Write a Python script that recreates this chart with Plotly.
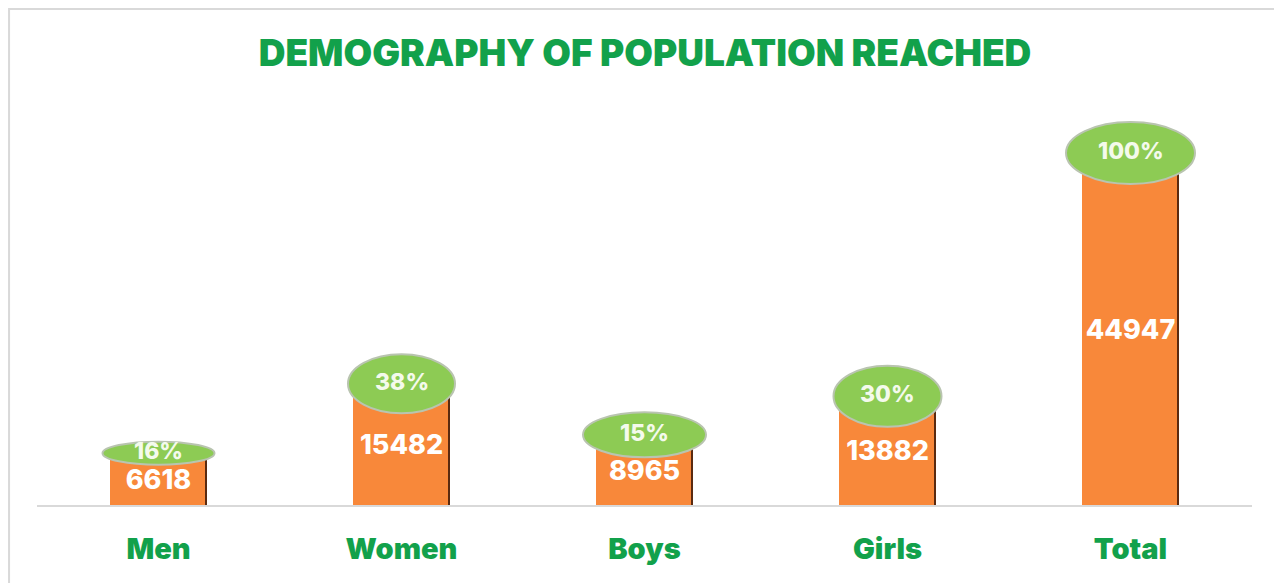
import plotly.graph_objects as go

categories = ["Men", "Women", "Boys", "Girls", "Total"]
values = [6618, 15482, 8965, 13882, 44947]
pct_labels = ["16%", "38%", "15%", "30%", "100%"]

# cap (ellipse) pixel sizes: (width, height)
cap_w = [112, 107, 123, 108, 129]
cap_h = [23, 59, 45, 61, 62]

BAR = "#F8883A"
EDGE = "#5A2A10"
CAP = "#8DCB54"
CAP_LINE = "#B9C4B0"
GREEN = "#12A14B"
FONT = "Inter"

x_idx = list(range(len(categories)))

fig = go.Figure()
fig.add_trace(go.Bar(
    x=x_idx, y=values, width=0.4, marker=dict(color=BAR, line=dict(width=0)),
    text=[str(v) for v in values], textposition="inside", insidetextanchor="middle",
    textangle=0, constraintext="none",
    textfont=dict(family=FONT, size=27, color="white", weight=800),
    hoverinfo="skip", showlegend=False,
))
fig.add_trace(go.Bar(
    x=x_idx, y=values, width=0.008, offset=0.192,
    marker=dict(color=EDGE, line=dict(width=0)), hoverinfo="skip", showlegend=False,
))

shapes = []
annotations = []
for i, (v, p) in enumerate(zip(values, pct_labels)):
    shapes.append(dict(
        type="circle", xref="x", yref="y", xsizemode="pixel", ysizemode="pixel",
        xanchor=i, yanchor=v,
        x0=-cap_w[i] / 2, x1=cap_w[i] / 2, y0=-cap_h[i] / 2, y1=cap_h[i] / 2,
        fillcolor=CAP, line=dict(color=CAP_LINE, width=2), layer="above",
    ))
    annotations.append(dict(
        x=i, y=v, xref="x", yref="y", text=p, showarrow=False, yshift=2,
        font=dict(family=FONT, size=23, color="#F4FAEC", weight=800),
        xanchor="center", yanchor="middle",
    ))

# outer frame
shapes.append(dict(type="rect", xref="paper", yref="paper",
                   x0=-0.0230, x1=1.0239, y0=-0.3, y1=1.2247,
                   line=dict(color="#D9D9D9", width=2), fillcolor="rgba(0,0,0,0)", layer="below"))

fig.update_layout(
    width=1274, height=575,
    margin=dict(l=29, r=30, t=92, b=78),
    paper_bgcolor="white", plot_bgcolor="white",
    barmode="overlay", bargap=0,
    title=dict(text="DEMOGRAPHY OF POPULATION REACHED", x=0.5, xanchor="center",
               y=0.9217, yanchor="middle",
               font=dict(family=FONT, size=37, color=GREEN, weight=900)),
    xaxis=dict(
        tickmode="array", tickvals=x_idx, ticktext=categories,
        range=[-0.5, len(categories) - 0.5],
        showgrid=False, zeroline=False, showline=True, linecolor="#D9D9D9", linewidth=2,
        ticks="", ticklabelstandoff=17,
        tickfont=dict(family=FONT, size=29, color=GREEN, weight=900),
    ),
    yaxis=dict(range=[0, 51715], visible=False, showgrid=False, zeroline=False),
    shapes=shapes, annotations=annotations,
)

fig.write_html("out.html")
